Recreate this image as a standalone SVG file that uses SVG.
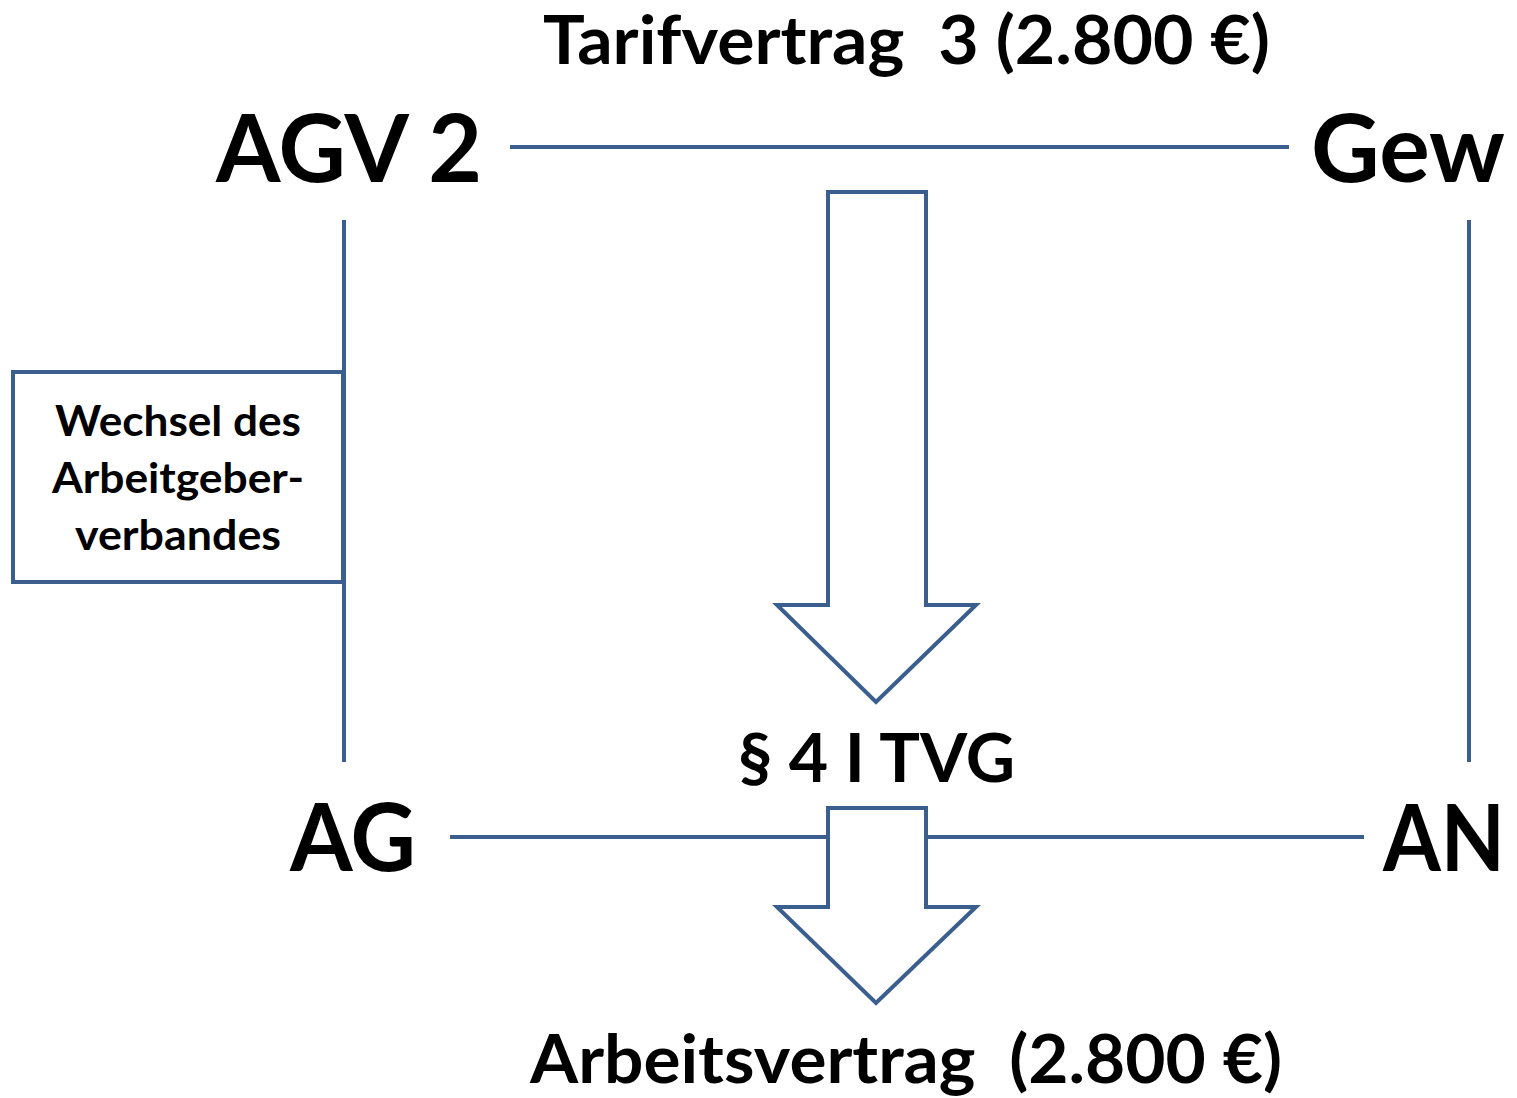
<svg xmlns="http://www.w3.org/2000/svg" width="1517" height="1098" viewBox="0 0 1517 1098">
<style>
.t{font-family:Lato,"Open Sans","Liberation Sans",sans-serif;font-weight:bold;fill:#000;white-space:pre}
.ln{stroke:#3A5F8E;stroke-width:4;fill:none}
.ar{stroke:#3A5F8E;stroke-width:4;fill:#fff;stroke-linejoin:miter}
</style>
<rect width="1517" height="1098" fill="#fff"/>
<g id="connectors">
<line class="ln" x1="510" y1="147" x2="1289" y2="147"/>
<line class="ln" x1="344" y1="220" x2="344" y2="762"/>
<line class="ln" x1="1469" y1="220" x2="1469" y2="762"/>
<line class="ln" x1="450" y1="837" x2="1364" y2="837"/>
</g>
<g id="arrow-top">
<path class="ar" d="M828 192 H926 V605 H976 L876 702 L777 605 H828 Z"/>
</g>
<g id="arrow-bottom">
<path class="ar" d="M828 808 H926 V907 H976 L876 1003 L777 907 H828 Z"/>
</g>
<g id="title-tv">
<text class="t" x="543" y="64" font-size="66" textLength="727" lengthAdjust="spacingAndGlyphs">Tarifvertrag  3 (2.800 €)</text>
</g>
<g id="node-agv2">
<text class="t" x="216" y="182" font-size="93" textLength="266" lengthAdjust="spacingAndGlyphs">AGV 2</text>
</g>
<g id="node-gew">
<text class="t" x="1311" y="182" font-size="93" textLength="194" lengthAdjust="spacingAndGlyphs">Gew</text>
</g>
<g id="node-ag">
<text class="t" x="290" y="871" font-size="93" textLength="126" lengthAdjust="spacingAndGlyphs">AG</text>
</g>
<g id="node-an">
<text class="t" x="1383" y="871" font-size="92" textLength="122" lengthAdjust="spacingAndGlyphs">AN</text>
</g>
<g id="label-tvg">
<text class="t" x="738" y="782" font-size="66" textLength="277" lengthAdjust="spacingAndGlyphs">§ 4 I TVG</text>
</g>
<g id="label-av">
<text class="t" x="530" y="1083" font-size="66" textLength="752" lengthAdjust="spacingAndGlyphs">Arbeitsvertrag  (2.800 €)</text>
</g>
<g id="box-wechsel">
<rect x="13" y="372" width="330" height="210" fill="#fff" stroke="#3A5F8E" stroke-width="4"/>
<text class="t" x="178" y="436" font-size="42" text-anchor="middle" textLength="246" lengthAdjust="spacingAndGlyphs">Wechsel des</text>
<text class="t" x="178" y="493" font-size="42" text-anchor="middle" textLength="252" lengthAdjust="spacingAndGlyphs">Arbeitgeber-</text>
<text class="t" x="178" y="550" font-size="42" text-anchor="middle" textLength="206" lengthAdjust="spacingAndGlyphs">verbandes</text>
</g>
</svg>
